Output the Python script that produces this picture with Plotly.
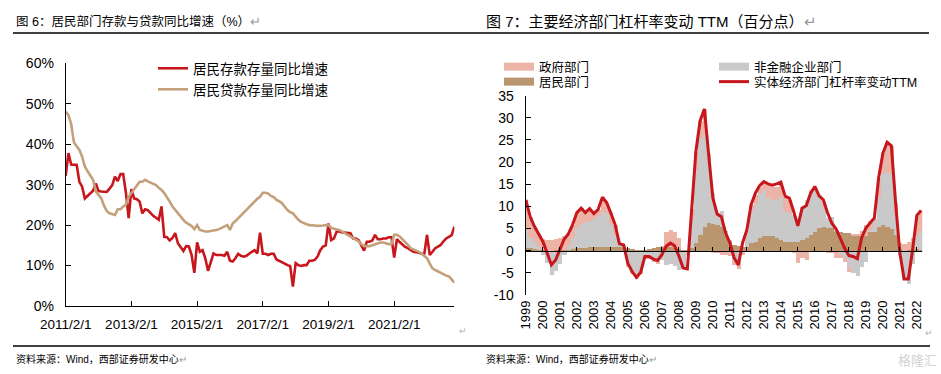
import plotly.graph_objects as go

W, HGT = 941, 374
def px(x): return x / W
def py(y): return 1 - y / HGT

FONT = "Liberation Sans, Arial, Noto Sans CJK SC"
RED = "#C8161D"
TAN_LINE = "#C4A07A"
PINK = "#EBB4A6"
GRAY = "#C9C9C9"
TAN_BAR = "#B9966E"

# ---------------- Left chart data (monthly, 2011/2 - 2022/12) ----------------
months = [f"{2011 + (1 + i) // 12}/{(1 + i) % 12 + 1}/1" for i in range(143)]
month_ticks = ["2011/2/1", "2013/2/1", "2015/2/1", "2017/2/1", "2019/2/1", "2021/2/1"]
pct_ticks = [0, 10, 20, 30, 40, 50, 60]

deposit_yoy = [
    32.2, 37.8, 35.0, 34.9, 34.9, 30.7, 29.5, 26.6, 27.2, 27.8,
    28.5, 30.3, 28.4, 28.3, 28.2, 28.2, 29.0, 29.9, 32.0, 30.9,
    32.6, 32.6, 28.0, 21.7, 28.9, 26.6, 26.4, 25.8, 22.9, 23.9,
    23.7, 22.9, 22.3, 21.8, 21.3, 24.6, 17.1, 17.0, 16.2, 16.8,
    18.0, 15.5, 14.5, 13.6, 14.8, 14.7, 12.6, 8.2, 15.7, 13.4,
    13.8, 11.8, 8.7, 11.0, 13.0, 12.6, 12.6, 12.6, 12.4, 13.4,
    11.2, 11.0, 11.8, 12.9, 12.4, 12.2, 12.4, 13.0, 13.4, 13.8,
    13.0, 18.1, 12.9, 12.9, 12.6, 12.9, 12.9, 11.5, 11.2, 11.0,
    10.5, 10.1, 9.9, 4.8, 10.6, 10.1, 9.9, 10.1, 10.1, 11.2,
    11.2, 11.4, 12.2, 13.8, 14.7, 15.0, 20.4, 16.3, 16.7, 18.4,
    18.4, 18.2, 18.1, 18.0, 18.0, 16.7, 16.7, 16.3, 15.1, 13.7,
    15.9, 15.9, 16.2, 17.6, 16.5, 16.5, 16.7, 16.7, 17.0, 17.0,
    12.0, 16.5, 15.8, 15.1, 14.6, 14.3, 13.8, 13.4, 13.3, 13.2,
    12.9, 12.9, 17.6, 12.6, 13.4, 14.3, 14.7, 15.1, 16.0, 16.7,
    17.1, 17.5, 19.6]

loan_yoy = [
    48.1, 47.2, 45.0, 40.5, 39.5, 38.6, 36.9, 34.5, 33.3, 32.4,
    31.2, 28.3, 27.5, 26.6, 24.8, 23.5, 22.9, 22.6, 22.5, 23.9,
    23.9, 24.6, 25.0, 27.0, 27.9, 28.9, 30.0, 30.7, 30.7, 31.2,
    30.8, 30.5, 30.2, 29.9, 29.2, 28.7, 27.9, 27.0, 25.8, 24.6,
    23.7, 22.9, 22.1, 21.3, 20.6, 20.2, 19.8, 19.0, 20.0, 18.8,
    18.6, 18.4, 18.4, 18.5, 18.6, 18.8, 19.0, 19.3, 19.6, 20.0,
    18.8, 20.4, 21.0, 21.7, 22.3, 22.9, 23.7, 24.4, 25.1, 25.8,
    26.5, 27.0, 28.0, 28.0, 27.8, 27.2, 26.9, 26.2, 25.9, 25.4,
    24.6, 23.7, 23.2, 22.9, 22.1, 21.3, 20.8, 20.4, 20.2, 20.0,
    20.0, 19.9, 19.8, 19.8, 19.9, 20.0, 20.0, 19.3, 19.0, 18.9,
    18.8, 18.4, 18.1, 17.8, 17.3, 17.0, 16.5, 16.0, 15.3, 14.8,
    14.8, 14.8, 15.0, 15.3, 15.5, 15.7, 15.7, 15.5, 15.3, 15.3,
    17.6, 17.6, 17.2, 16.5, 15.9, 15.1, 14.3, 14.0, 13.8, 13.4,
    13.0, 12.4, 11.8, 10.5, 9.3, 8.9, 8.5, 8.2, 7.7, 7.5,
    7.3, 6.6, 5.8]

# ---------------- Right chart data (quarterly, 1999Q1 - 2022Q2) ----------------
quarters = [1999 + k / 4 for k in range(94)]
years = list(range(1999, 2023))
lev_ticks = list(range(-10, 40, 5))

total_ttm = [
    11.5, 7.7, 5.5, 3.8, 2.1, -0.5, -3.2, -2.1, 0.4, 2.6,
    3.8, 5.9, 8.6, 9.6, 8.6, 9.5, 8.4, 9.3, 12.1, 10.9,
    8.5, 5.9, 1.6, 1.3, -2.9, -4.7, -6.0, -4.9, -1.3, -1.3,
    -1.9, -2.2, -0.9, 1.0, 1.7, 1.1, -1.2, -3.9, -4.1, 9.5,
    22.4, 29.3, 32.0, 21.8, 11.9, 8.3, 7.7, 4.0, 1.8, -1.6,
    -3.2, 1.8, 4.7, 10.4, 13.0, 14.7, 15.6, 15.1, 14.8, 15.1,
    15.5, 12.3, 11.9, 8.9, 5.6, 9.6, 10.2, 13.0, 14.5, 12.4,
    11.5, 8.5, 6.2, 4.9, 2.7, 0.6, -1.1, -1.3, -1.8, 2.9,
    5.1, 6.2, 7.4, 16.4, 22.0, 24.5, 23.7, 10.8, -0.5, -6.4,
    -6.4, 0.2, 8.0, 9.1]

household = [
    0.7, 0.6, 0.4, 0.3, 0.2, 0.1, 0.1, 0.2, 0.3, 0.3,
    0.3, 0.4, 0.6, 0.7, 0.7, 0.8, 0.9, 1.0, 1.0, 1.0,
    1.0, 0.9, 0.9, 0.8, 0.6, 0.5, 0.3, 0.2, 0.3, 0.4,
    0.6, 0.8, 1.0, 1.0, 0.8, 0.6, 0.4, 0.2, 0.2, 0.6,
    1.7, 3.6, 5.5, 6.3, 6.0, 5.8, 5.5, 3.6, 2.1, 1.3,
    1.1, 0.9, 0.9, 1.7, 2.1, 2.9, 3.5, 3.5, 3.3, 2.9,
    2.4, 2.1, 2.1, 2.1, 2.1, 2.5, 2.9, 3.6, 4.2, 5.3,
    5.5, 5.3, 5.2, 4.4, 4.2, 4.0, 4.0, 3.6, 3.3, 3.3,
    3.5, 4.4, 4.4, 5.5, 5.8, 5.5, 4.9, 3.6, 0.5, -0.3,
    0.2, 0.3, 0.5, 0.3]

corporate = [
    4.0, 2.3, 1.7, 0.5, -0.9, -2.8, -5.4, -4.6, -2.9, -1.0,
    0.9, 2.6, 4.6, 5.4, 5.8, 6.0, 6.3, 6.9, 7.9, 7.6,
    5.2, 2.7, 0.5, 0.3, -2.9, -4.5, -5.6, -4.7, -1.4, -1.5,
    -2.2, -2.5, -2.0, -3.2, -3.0, -3.3, -4.2, -3.6, -0.6, 6.5,
    16.5, 22.0, 21.0, 13.5, 7.0, 2.7, 3.5, 1.0, 0.5, -2.4,
    -3.2, -0.5, 3.8, 7.5, 8.6, 10.1, 10.3, 8.4, 8.2, 8.6,
    9.9, 6.8, 6.4, 6.0, 4.9, 7.5, 8.6, 9.4, 9.6, 6.6,
    4.5, 2.1, 2.5, 0.3, -1.0, -1.5, -3.5, -5.0, -5.7, -3.5,
    -2.5, 0.3, 2.5, 6.8, 11.7, 12.4, 12.6, 4.5, -0.8, -6.3,
    -7.4, -3.0, 3.0, 4.2]

government = [
    6.8, 4.8, 3.4, 3.0, 2.6, 2.3, 2.3, 2.5, 2.6, 3.0,
    2.6, 2.9, 3.4, 3.5, 2.1, 2.7, 1.2, 1.4, 3.2, 2.3,
    2.3, 2.3, 0.2, 0.2, -0.6, -0.7, -0.7, -0.4, -0.2, -0.2,
    -0.3, -0.5, 0.1, 3.2, 3.9, 3.8, 2.6, -0.5, -0.3, 2.4,
    4.2, 3.7, 5.5, 2.0, -0.5, -0.4, -1.0, -1.0, -1.2, -0.8,
    -0.8, -0.4, 0.0, 1.2, 1.9, 1.5, 1.6, 2.9, 3.0, 3.0,
    2.7, 3.3, 3.0, -0.5, -2.6, -1.5, -2.0, 0.8, 0.7, 0.5,
    1.0, -0.5, -0.5, -1.5, -0.5, -1.0, -1.2, 0.2, 0.6, 1.2,
    2.3, 2.0, 0.3, 4.1, 4.7, 6.7, 6.2, 2.7, 1.2, 1.5,
    1.8, 2.6, 4.5, 4.7]

fig = go.Figure()

# Left chart lines
fig.add_trace(go.Scatter(x=months, y=deposit_yoy, mode="lines", name="居民存款存量同比增速",
                         line=dict(color=RED, width=2.6), xaxis="x", yaxis="y", legend="legend"))
fig.add_trace(go.Scatter(x=months, y=loan_yoy, mode="lines", name="居民贷款存量同比增速",
                         line=dict(color=TAN_LINE, width=2.6), xaxis="x", yaxis="y", legend="legend2"))

# Right chart stacked bars
for vals, col, nm in [(household, TAN_BAR, "居民部门"), (corporate, GRAY, "非金融企业部门"),
                      (government, PINK, "政府部门")]:
    fig.add_trace(go.Bar(x=quarters, y=vals, name=nm, marker=dict(color=col, line=dict(width=0)),
                         width=0.25, xaxis="x2", yaxis="y2", showlegend=False))

# legend swatches for bar series
for col, nm, lg in [(PINK, "政府部门", "legend3"), (GRAY, "非金融企业部门", "legend4"),
                    (TAN_BAR, "居民部门", "legend5")]:
    fig.add_trace(go.Scatter(x=[None], y=[None], mode="lines", name=nm, line=dict(color=col, width=8),
                             xaxis="x2", yaxis="y2", legend=lg, hoverinfo="skip"))

fig.add_trace(go.Scatter(x=quarters, y=total_ttm, mode="lines", name="实体经济部门杠杆率变动TTM",
                         line=dict(color=RED, width=3), xaxis="x2", yaxis="y2", legend="legend6"))

# dummy trace for the zero-line tick axis
fig.add_trace(go.Scatter(x=[None], y=[None], xaxis="x3", yaxis="y2", showlegend=False, hoverinfo="skip"))

LX0, LX1 = px(65.7), px(454.4)
LY0, LY1 = py(306), py(63.3)
RX0, RX1 = px(525.7), px(922.3)
RY0, RY1 = py(295), py(95.7)
zero_pos = RY0 + (10 / 45) * (RY1 - RY0)
xr = [1998.99, 2022.32]

axis_common = dict(showgrid=False, zeroline=False, showline=True, linecolor="black", linewidth=1,
                   ticks="inside", tickcolor="black", ticklen=5, automargin=False,
                   tickfont=dict(family=FONT, size=14, color="black"))

def legend_at(x, y, size):
    return dict(x=px(x), y=py(y), xanchor="left", yanchor="middle", bgcolor="rgba(0,0,0,0)",
                borderwidth=0, font=dict(family=FONT, size=size, color="black"), itemwidth=30)

fig.update_layout(
    width=W, height=HGT, margin=dict(l=0, r=0, t=0, b=0, autoexpand=False),
    paper_bgcolor="white", plot_bgcolor="rgba(0,0,0,0)",
    barmode="relative", bargap=0,
    font=dict(family=FONT, color="black"),
    xaxis=dict(axis_common, domain=[LX0, LX1], type="category", range=[0, 142],
               tickmode="array", tickvals=month_ticks, ticktext=month_ticks,
               tickfont=dict(family=FONT, size=13.5, color="black"), ticklabelstandoff=6, anchor="y"),
    yaxis=dict(axis_common, domain=[LY0, LY1], range=[0, 60], tickmode="array", tickvals=pct_ticks,
               ticktext=[f"{v}%" for v in pct_ticks], ticklabelstandoff=8, anchor="x"),
    xaxis2=dict(showgrid=False, zeroline=False, showline=False, ticks="", domain=[RX0, RX1],
                range=xr, tickmode="array", tickvals=years, ticktext=[str(y) for y in years],
                tickangle=-90, tickfont=dict(family=FONT, size=13, color="black"),
                ticklabelstandoff=2, anchor="y2", automargin=False),
    xaxis3=dict(overlaying="x2", anchor="free", position=zero_pos, range=xr, showgrid=False,
                zeroline=False, showline=True, linecolor="black", linewidth=1, ticks="inside",
                ticklen=4, tickcolor="black", tickmode="array", tickvals=years, showticklabels=False,
                layer="above traces", automargin=False),
    yaxis2=dict(axis_common, domain=[RY0, RY1], range=[-10, 35], tickmode="array", tickvals=lev_ticks,
                ticktext=[str(v) for v in lev_ticks], ticklabelstandoff=8, anchor="x2"),
    legend=legend_at(153, 68.5, 13.5),
    legend2=legend_at(153, 89.5, 13.5),
    legend3=legend_at(499, 67, 12.5),
    legend4=legend_at(714, 67, 12.5),
    legend5=legend_at(499, 82, 12.5),
    legend6=legend_at(714, 82, 12.5),
)

ann_font = dict(family=FONT, color="black")
annotations = [
    dict(text="图 6：居民部门存款与贷款同比增速（%）<span style='color:#9a9a9a'>↵</span>",
         x=px(14), y=py(21), font=dict(ann_font, size=12.5)),
    dict(text="图 7：主要经济部门杠杆率变动 TTM（百分点）<span style='color:#9a9a9a'>↵</span>",
         x=px(484), y=py(21), font=dict(ann_font, size=15)),
    dict(text="资料来源：Wind，西部证券研发中心<span style='color:#9a9a9a'>↵</span>",
         x=px(14), y=py(359), font=dict(ann_font, size=10)),
    dict(text="资料来源：Wind，西部证券研发中心<span style='color:#9a9a9a'>↵</span>",
         x=px(484), y=py(359), font=dict(ann_font, size=10)),
    dict(text="↵", x=px(457), y=py(331), font=dict(family=FONT, size=9, color="#b0b0b0")),
    dict(text="↵", x=px(923), y=py(333), font=dict(family=FONT, size=9, color="#b0b0b0")),
    dict(text="格隆汇", x=px(896), y=py(360), font=dict(family=FONT, size=13, color="#d4d4d4")),
]
for a in annotations:
    a.update(xref="paper", yref="paper", xanchor="left", yanchor="middle", showarrow=False)
fig.update_layout(annotations=annotations)

fig.update_layout(shapes=[
    dict(type="line", xref="paper", yref="paper", x0=px(13), x1=px(929), y0=py(33), y1=py(33),
         line=dict(color="black", width=1.5)),
    dict(type="line", xref="paper", yref="paper", x0=px(13), x1=px(930), y0=py(346), y1=py(346),
         line=dict(color="black", width=1.5)),
])

fig.write_html("out.html", config={"displayModeBar": False},
               post_script="document.body.style.margin='0';")
